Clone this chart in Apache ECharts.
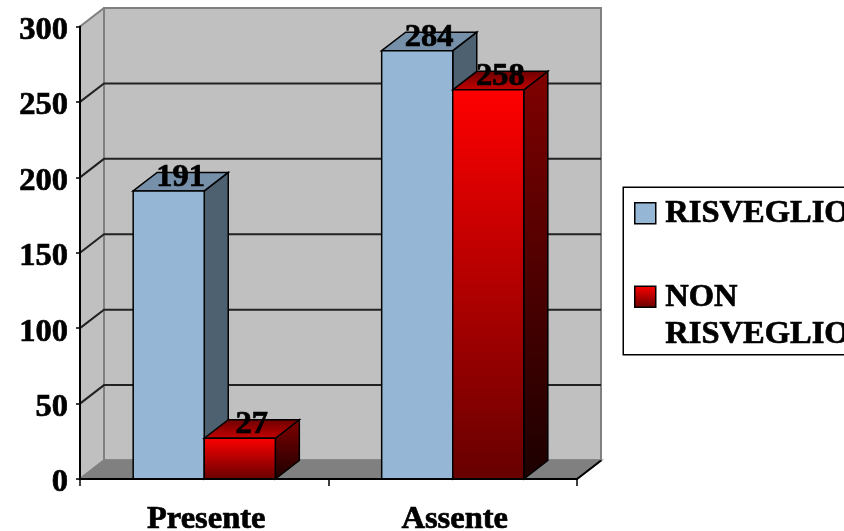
<!DOCTYPE html>
<html>
<head>
<meta charset="utf-8">
<style>
  html, body { margin: 0; padding: 0; background: #fff; overflow: hidden; }
  #chart { width: 844px; height: 531px; }
</style>
<script src="https://cdn.jsdelivr.net/npm/echarts@6/dist/echarts.min.js"></script>
</head>
<body>
<div id="chart"></div>
<script>
const categories = ['Presente', 'Assente'];
const risveglio = [191, 284];
const nonRisveglio = [27, 258];
const yTicks = [0, 50, 100, 150, 200, 250, 300];
const seriesNames = ['RISVEGLIO', 'NON\nRISVEGLIO'];

const FONT = '"Liberation Serif", "Times New Roman", serif';
const FONT_SIZE = 32.5;
// 3d look: how far the back plane is shifted from the front plane
const DX = 24;
const DY = 18.5;
const BAR_RATIO = 0.286;

function grad(x2, y2, from, to) {
  return new echarts.graphic.LinearGradient(0, 0, x2, y2, [
    { offset: 0, color: from },
    { offset: 1, color: to }
  ]);
}

const blueColors = { front: '#95B6D4', top: '#7590A8', side: '#4D6170' };
const redColors = {
  front: grad(0, 1, '#FF0000', '#660000'),
  top: grad(0, 1, '#6A0000', '#C80000'),
  side: grad(0, 1, '#800000', '#1C0000')
};

// back wall, side wall, floor and grid lines
function renderWalls(params, api) {
  const cs = params.coordSys;
  const left = cs.x, right = cs.x + cs.width;
  const children = [];
  const y0 = api.coord([0, 0])[1];
  const yMax = api.coord([0, yTicks[yTicks.length - 1]])[1];
  const edge = { stroke: '#808080', lineWidth: 2 };

  children.push({
    type: 'polygon',
    shape: { points: [[left, y0], [left + DX, y0 - DY], [left + DX, yMax - DY], [left, yMax]] },
    style: { fill: '#C0C0C0', stroke: null }
  });
  children.push({
    type: 'rect',
    shape: { x: left + DX, y: yMax - DY, width: right - left, height: y0 - yMax },
    style: Object.assign({ fill: '#C0C0C0' }, edge)
  });
  children.push({
    type: 'polygon',
    shape: { points: [[left, y0], [left + DX, y0 - DY], [right + DX, y0 - DY], [right, y0]] },
    style: Object.assign({ fill: '#808080' }, edge)
  });
  yTicks.forEach((t, i) => {
    const y = api.coord([0, t])[1];
    const last = i === 0 || i === yTicks.length - 1;
    children.push({
      type: 'polyline',
      shape: { points: [[left, y], [left + DX, y - DY], [right + DX, y - DY]] },
      style: { fill: null, stroke: last ? '#808080' : '#222222', lineWidth: 2 }
    });
  });
  children.push({
    type: 'line',
    shape: { x1: right, y1: y0, x2: right + DX, y2: y0 - DY },
    style: { stroke: '#000', lineWidth: 2 }
  });
  return { type: 'group', children };
}

function barRenderer(side, colors) {
  return function (params, api) {
    const p = api.coord([api.value(0), api.value(1)]);
    const base = api.coord([api.value(0), 0])[1];
    const w = api.size([1, 0])[0] * BAR_RATIO;
    const x0 = side < 0 ? p[0] - w : p[0];
    const x1 = x0 + w;
    const top = p[1];
    const line = { stroke: '#000', lineWidth: 1.5 };
    return {
      type: 'group',
      children: [
        {
          type: 'polygon',
          shape: { points: [[x1, top], [x1 + DX, top - DY], [x1 + DX, base - DY], [x1, base]] },
          style: Object.assign({ fill: colors.side }, line)
        },
        {
          type: 'polygon',
          shape: { points: [[x0, top], [x0 + DX, top - DY], [x1 + DX, top - DY], [x1, top]] },
          style: Object.assign({ fill: colors.top }, line)
        },
        {
          type: 'rect',
          shape: { x: x0, y: top, width: w, height: base - top },
          style: Object.assign({ fill: colors.front }, line)
        },
        {
          type: 'text',
          style: {
            text: String(api.value(1)),
            x: (x0 + x1) / 2 + DX / 2,
            y: top - 13.5,
            align: 'center',
            verticalAlign: 'middle',
            fill: '#000',
            stroke: '#000',
            lineWidth: 0.7,
            font: 'bold ' + FONT_SIZE + 'px ' + FONT
          }
        }
      ]
    };
  };
}

function pairs(values) {
  return values.map((v, i) => [i, v]);
}

const legendText = {
  fill: '#000',
  stroke: '#000',
  lineWidth: 0.7,
  font: 'bold ' + FONT_SIZE + 'px ' + FONT,
  lineHeight: 37
};

const chart = echarts.init(document.getElementById('chart'), null, { renderer: 'canvas' });
chart.setOption({
  animation: false,
  backgroundColor: '#fff',
  grid: { left: 80, top: 26.5, width: 497, height: 452.5, outerBoundsMode: 'none' },
  xAxis: {
    type: 'category',
    data: categories,
    z: 10,
    axisLine: { lineStyle: { color: '#000', width: 2 } },
    axisTick: { show: true, length: 7, lineStyle: { color: '#000', width: 1.5 } },
    axisLabel: {
      margin: 24,
      padding: [0, 0, 0, 4],
      color: '#000',
      fontFamily: FONT,
      fontWeight: 'bold',
      fontSize: FONT_SIZE,
      textBorderColor: '#000',
      textBorderWidth: 0.7,
      interval: 0
    }
  },
  yAxis: {
    type: 'value',
    min: 0,
    max: 300,
    interval: 50,
    z: 10,
    axisLine: { show: true, lineStyle: { color: '#000', width: 2 } },
    axisTick: { show: true, length: 4, lineStyle: { color: '#000', width: 1.5 } },
    splitLine: { show: false },
    axisLabel: {
      margin: 12,
      verticalAlign: 'top',
      lineHeight: 8,
      color: '#000',
      fontFamily: FONT,
      fontWeight: 'bold',
      fontSize: FONT_SIZE,
      textBorderColor: '#000',
      textBorderWidth: 0.7
    }
  },
  series: [
    { type: 'custom', name: 'walls', silent: true, renderItem: renderWalls, data: [[0, 0]], encode: { x: 0, y: 1 } },
    { type: 'custom', name: seriesNames[0], renderItem: barRenderer(-1, blueColors), data: pairs(risveglio), encode: { x: 0, y: 1 } },
    { type: 'custom', name: seriesNames[1], renderItem: barRenderer(1, redColors), data: pairs(nonRisveglio), encode: { x: 0, y: 1 } }
  ],
  graphic: [
    { type: 'rect', left: 622.5, top: 186.5, shape: { width: 260, height: 167.5 }, style: { fill: '#fff', stroke: '#000', lineWidth: 1.5 } },
    { type: 'rect', left: 634, top: 202, shape: { width: 21, height: 21 }, style: { fill: blueColors.front, stroke: '#000', lineWidth: 1.5 } },
    { type: 'rect', left: 634, top: 285.5, shape: { width: 21, height: 21 }, style: { fill: redColors.front, stroke: '#000', lineWidth: 1.5 } },
    { type: 'text', left: 665, top: 195.5, style: Object.assign({ text: seriesNames[0] }, legendText) },
    { type: 'text', left: 665, top: 279.5, style: Object.assign({ text: seriesNames[1] }, legendText) }
  ]
});
</script>
</body>
</html>
